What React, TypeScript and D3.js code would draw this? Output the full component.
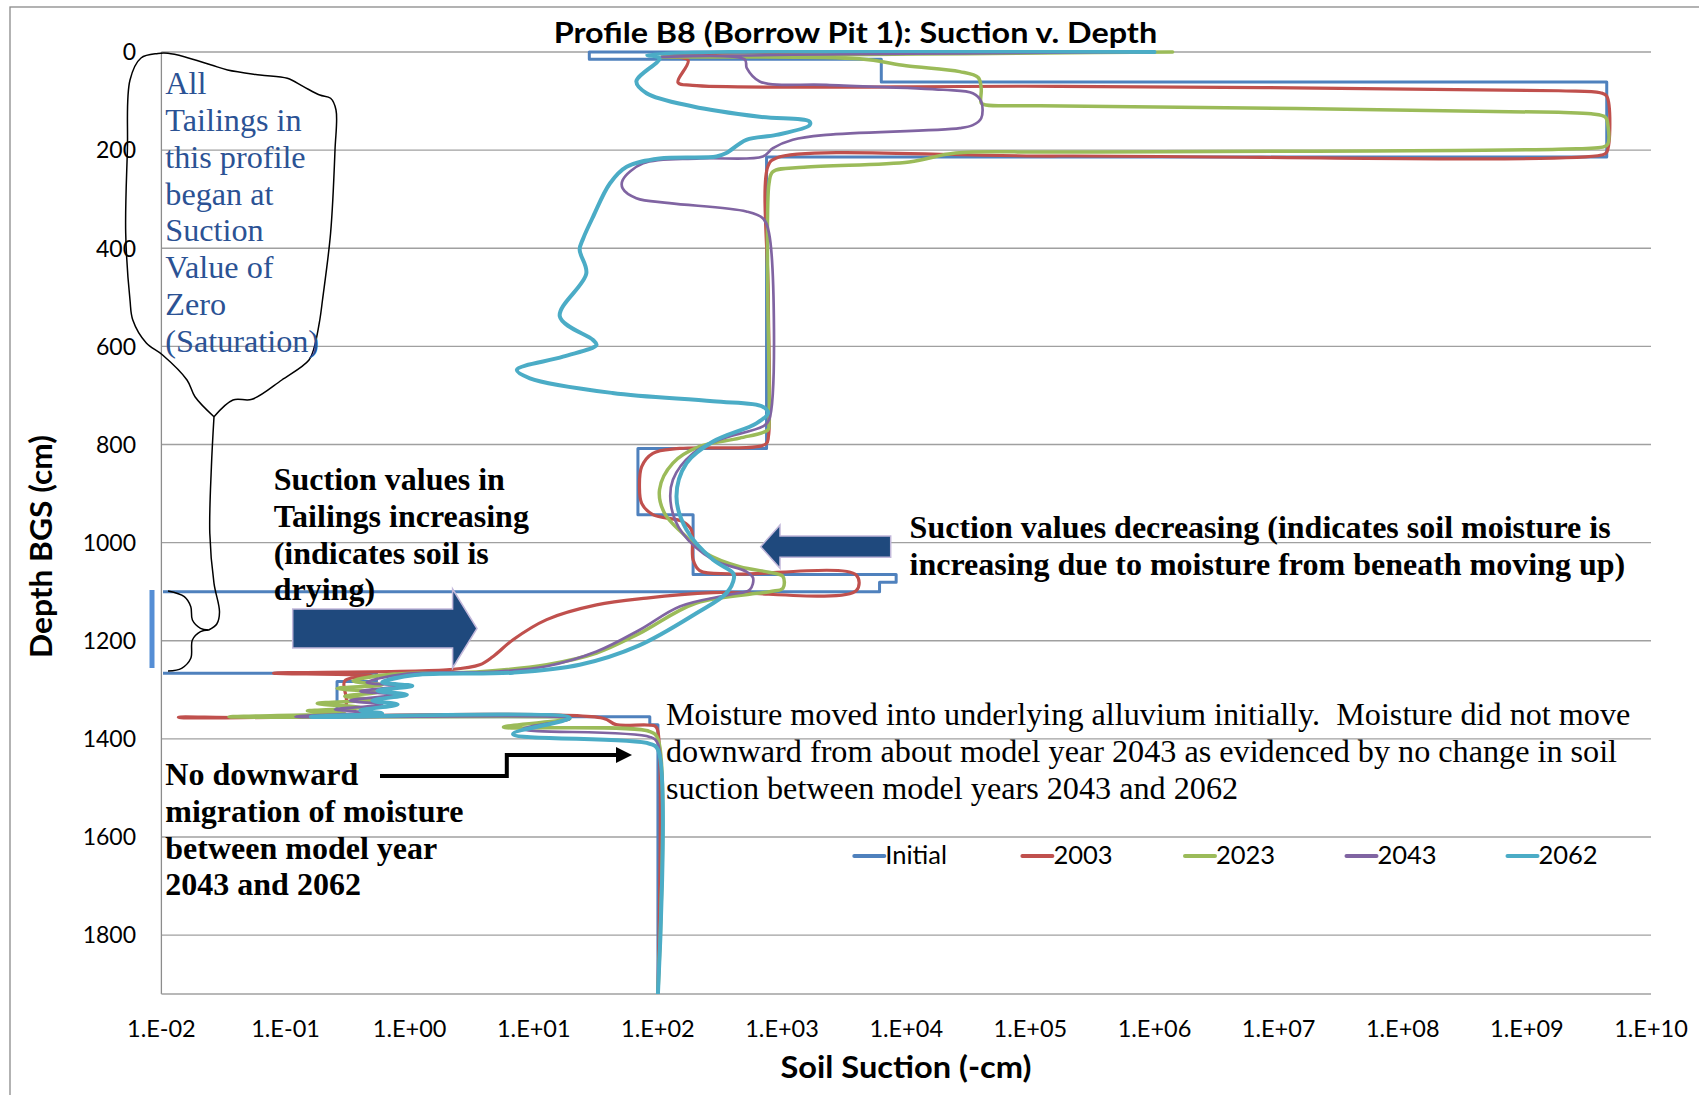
import React from 'react';
import * as d3 from 'd3';

const W = 1699;
const H = 1095;

// ---------- data ----------
const depthTicks = [0, 200, 400, 600, 800, 1000, 1200, 1400, 1600, 1800];
const suctionTicks = [1e-2, 1e-1, 1e0, 1e1, 1e2, 1e3, 1e4, 1e5, 1e6, 1e7, 1e8, 1e9, 1e10];
const suctionTickLabels = ['1.E-02', '1.E-01', '1.E+00', '1.E+01', '1.E+02', '1.E+03', '1.E+04', '1.E+05', '1.E+06', '1.E+07', '1.E+08', '1.E+09', '1.E+10'];
const seriesNames = ['Initial', '2003', '2023', '2043', '2062'];
const seriesColors = ['#4F81BD', '#C0504D', '#9BBB59', '#8064A2', '#4BACC6'];

// [suction (-cm), depth (cm)]
const initialPts: [number, number][] = [
  [1e6, 0], [28, 0], [28, 15], [6300, 15], [6300, 61], [4.4e9, 61], [4.4e9, 214], [750, 214],
  [750, 808], [69, 808], [69, 943], [192, 943], [192, 1065], [8300, 1065], [8300, 1081],
  [6100, 1081], [6100, 1100], [0.01, 1100], [0.01, 1266], [0.54, 1266], [0.54, 1283],
  [0.26, 1283], [0.26, 1355], [86, 1355], [86, 1371], [100, 1371], [100, 1920],
];

const pts2003: [number, number][] = [
  [1e6, 0], [110, 8], [175, 17], [145, 62], [190, 68], [1.7e5, 70], [1.8e9, 79], [3.9e9, 83],
  [4.4e9, 90], [4.4e9, 204], [4.0e9, 210], [1.7e5, 212], [900, 216], [772, 232], [775, 500],
  [778, 782], [740, 799], [150, 808], [91, 818], [74, 845], [71, 886], [74, 920], [91, 943],
  [159, 957], [186, 974], [192, 1035], [217, 1057], [403, 1064], [3960, 1066], [3960, 1098],
  [278, 1102], [81, 1113], [32, 1127], [12.7, 1157], [6.8, 1198], [4.7, 1232], [3.67, 1249],
  [2.1, 1259], [0.08, 1266], [0.5, 1272], [0.3, 1282], [0.3, 1335], [0.0137, 1356], [36, 1358],
  [46, 1371], [95, 1374], [100, 1385], [100, 1920],
];

const pts2023: [number, number][] = [
  [1.4e6, 0], [103, 10], [4200, 14], [1.0e4, 28], [2.7e4, 40], [3.8e4, 52], [4.02e4, 75],
  [4.02e4, 104], [4.4e4, 108], [1.2e5, 109.5], [1.8e9, 123], [3.3e9, 126], [4.3e9, 133],
  [4.5e9, 150], [4.5e9, 187], [4.2e9, 193], [1.8e9, 198], [1.7e5, 204], [2.5e4, 206],
  [1.06e4, 224], [1500, 235], [845, 244], [785, 268], [785, 757], [770, 770], [455, 787],
  [217, 804], [132, 838], [103, 892], [113, 940], [158, 981], [245, 1022], [455, 1049],
  [850, 1062], [1017, 1069], [1017, 1093], [795, 1100], [204, 1123], [71, 1185], [32, 1225],
  [12.7, 1249], [3.67, 1263], [0.75, 1268], [0.35, 1282], [0.6, 1290], [0.26, 1297], [0.55, 1305],
  [0.3, 1313], [0.5, 1320], [0.18, 1328], [0.4, 1336], [0.15, 1343], [0.3, 1348], [0.035, 1355],
  [19.5, 1359], [5.7, 1376], [86, 1385], [100, 1400], [100, 1920],
];

const pts2043: [number, number][] = [
  [1e6, 0], [103, 10], [500, 15], [520, 33], [660, 60], [2275, 67], [1.98e4, 77], [3.44e4, 84],
  [4.02e4, 101], [4.02e4, 135], [3.44e4, 149], [2.7e4, 155], [2275, 169], [1220, 179], [845, 196],
  [700, 213], [217, 217], [76, 227], [52, 261], [52, 278], [67, 298], [124, 308], [515, 325],
  [700, 339], [785, 369], [785, 750], [700, 763], [314, 790], [192, 818], [132, 872], [128, 927],
  [158, 981], [278, 1035], [516, 1059], [584, 1072], [549, 1096], [378, 1106], [150, 1130],
  [71, 1178], [32, 1222], [12.7, 1252], [5, 1263], [0.9, 1268], [0.45, 1285], [0.85, 1292],
  [0.4, 1303], [0.75, 1310], [0.33, 1322], [0.6, 1330], [0.25, 1340], [0.45, 1346], [0.12, 1355],
  [19.5, 1359], [8.2, 1380], [86, 1396], [100, 1410], [100, 1920],
];

const pts2062: [number, number][] = [
  [1e6, 0], [82, 6], [103, 13], [67, 60], [81, 84], [192, 111], [660, 132], [1667, 142],
  [1667, 149], [900, 169], [515, 179], [356, 206], [296, 213], [103, 217], [56, 234], [41, 268],
  [30, 336], [25, 380], [23.4, 403], [26.5, 451], [16.2, 539], [30, 587], [32, 597], [17.2, 621],
  [7.3, 648], [9.3, 665], [43, 695], [278, 712], [700, 723], [770, 736], [621, 757], [278, 794],
  [170, 838], [141, 906], [170, 974], [278, 1035], [403, 1062], [410, 1072], [356, 1103],
  [204, 1144], [70, 1210], [23.4, 1249], [6.8, 1265], [1.1, 1270], [0.6, 1285], [1.05, 1292],
  [0.55, 1302], [0.95, 1310], [0.5, 1322], [0.8, 1330], [0.4, 1342], [0.6, 1348], [0.16, 1355],
  [19.5, 1357], [6.8, 1390], [86, 1410], [100, 1422], [100, 1920],
];

const seriesPoints = [initialPts, pts2003, pts2023, pts2043, pts2062];

// ---------- annotation texts ----------
const bubbleLines = ['All', 'Tailings in', 'this profile', 'began at', 'Suction', 'Value of', 'Zero', '(Saturation)'];
const dryingLines = ['Suction values in', 'Tailings increasing', '(indicates soil is', 'drying)'];
const decreasingLines = ['Suction values decreasing (indicates soil moisture is', 'increasing due to moisture from beneath moving up)'];
const moistureLines = ['Moisture moved into underlying alluvium initially.  Moisture did not move', 'downward from about model year 2043 as evidenced by no change in soil', 'suction between model years 2043 and 2062'];
const noDownLines = ['No downward', 'migration of moisture', 'between model year', '2043 and 2062'];

// ---------- layout / style ----------
const plot = { left: 161.4, right: 1651, top: 52, bottom: 994 };
const seriesWidths = [3, 3.2, 3.5, 2.7, 4];
const legendXs = [854.3, 1022.4, 1185, 1346.5, 1507.5];
const sansFont = 'Lato, "Open Sans", sans-serif';
const serifFont = '"Liberation Serif", "Times New Roman", serif';
const lineGap = 36.75;

export default function App() {
  const x = d3.scaleLog().domain([1e-2, 1e10]).range([plot.left, plot.right]);
  const y = d3.scaleLinear().domain([0, 1920]).range([plot.top, plot.bottom]);

  const smooth = d3
    .line<[number, number]>()
    .x((d) => x(d[0]))
    .y((d) => y(d[1]))
    .curve(d3.curveCatmullRom.alpha(0.5));
  const straight = d3
    .line<[number, number]>()
    .x((d) => x(d[0]))
    .y((d) => y(d[1]))
    .curve(d3.curveLinear);

  const px = d3.line<[number, number]>().curve(d3.curveCatmullRom.alpha(0.5));

  const bubble: [number, number][] = [
    [214, 416.7], [233, 400], [252, 399.3], [281.8, 380], [309, 360], [314.4, 346.7], [319.8, 320],
    [322.5, 300], [330.6, 233], [335, 150], [336, 110], [330.6, 98.3], [319.8, 95], [303.5, 86.7],
    [287.3, 78.3], [260, 75], [227.6, 70], [211.4, 65], [184.3, 56.7], [168, 53.3], [158, 53.5],
    [141, 58], [130, 80], [127.4, 150], [125.7, 233], [130, 300], [132.8, 320], [146.3, 343],
    [162.6, 355], [187, 380], [195, 396.7], [214, 416.7],
  ];
  const tail: [number, number][] = [
    [214, 416.7], [211.4, 466.7], [209.8, 533.3], [214, 583.3], [219.5, 612], [216.8, 624], [208.7, 630],
  ];
  const braceTop: [number, number][] = [
    [168, 591], [184.3, 596.7], [190.8, 606.7], [192.4, 620], [200.5, 628.3], [208.7, 630],
  ];
  const braceBottom: [number, number][] = [
    [208.7, 630], [200.5, 631.7], [192.4, 640], [190.8, 658.3], [181.6, 668.3], [168, 671],
  ];

  return (
    <svg
      width={W}
      height={H}
      viewBox={`0 0 ${W} ${H}`}
      style={{ position: 'absolute', left: 0, top: 0, background: '#fff' }}
    >
      <rect x={0} y={0} width={W} height={H} fill="#fff" />
      <rect x={10} y={7} width={W + 20} height={H + 20} fill="none" stroke="#8a8a8a" strokeWidth={1.3} />
      <defs>
        <clipPath id="plotClip">
          <rect x={plot.left + 1.6} y={plot.top - 2} width={plot.right - plot.left + 10} height={plot.bottom - plot.top + 2} />
        </clipPath>
      </defs>

      {/* gridlines */}
      {depthTicks.map((t) => (
        <line key={'g' + t} x1={plot.left} x2={plot.right} y1={y(t)} y2={y(t)} stroke="#a0a0a0" strokeWidth={1.3} />
      ))}
      {/* axes */}
      <line x1={plot.left} x2={plot.left} y1={plot.top} y2={plot.bottom} stroke="#8c8c8c" strokeWidth={1.3} />
      <line x1={plot.left} x2={plot.right} y1={plot.bottom} y2={plot.bottom} stroke="#a0a0a0" strokeWidth={1.3} />

      {/* tick labels */}
      {depthTicks.map((t) => (
        <text key={'yl' + t} x={136} y={y(t)} dy="0.36em" textAnchor="end" fontFamily={sansFont} fontSize={23} fill="#000">
          {t}
        </text>
      ))}
      {suctionTicks.map((t, i) => (
        <text key={'xl' + t} x={x(t)} y={1036.5} textAnchor="middle" fontFamily={sansFont} fontSize={23.5} fill="#000">
          {suctionTickLabels[i]}
        </text>
      ))}

      {/* series */}
      <g clipPath="url(#plotClip)" fill="none" strokeLinecap="round" strokeLinejoin="round">
        {seriesPoints.map((pts, i) => (
          <path
            key={seriesNames[i]}
            d={(i === 0 ? straight(pts) : smooth(pts)) || ''}
            stroke={seriesColors[i]}
            strokeWidth={seriesWidths[i]}
          />
        ))}
      </g>

      {/* titles */}
      <text x={855.4} y={43.3} textAnchor="middle" fontFamily={sansFont} fontWeight="bold" fontSize={28} textLength={603.5} lengthAdjust="spacingAndGlyphs" fill="#000">
        Profile B8 (Borrow Pit 1): Suction v. Depth
      </text>
      <text x={906} y={1078} textAnchor="middle" fontFamily={sansFont} fontWeight="bold" fontSize={30} textLength={251} lengthAdjust="spacingAndGlyphs" fill="#000">
        Soil Suction (-cm)
      </text>
      <text transform="translate(51.5,546.5) rotate(-90)" textAnchor="middle" fontFamily={sansFont} fontWeight="bold" fontSize={30} textLength={223} lengthAdjust="spacingAndGlyphs" fill="#000">
        Depth BGS (cm)
      </text>

      {/* legend */}
      {seriesNames.map((n, i) => {
        const lx = legendXs[i];
        return (
          <g key={'lg' + n}>
            <line x1={lx} x2={lx + 30} y1={856} y2={856} stroke={seriesColors[i]} strokeWidth={4} strokeLinecap="round" />
            <text x={lx + 31} y={864} fontFamily={sansFont} fontSize={25.5} fill="#000">
              {n}
            </text>
          </g>
        );
      })}

      {/* annotation: bubble */}
      <g fill="none" stroke="#000" strokeWidth={1.5}>
        <path d={px(bubble) || ''} />
        <path d={px(tail) || ''} />
        <path d={px(braceTop) || ''} />
        <path d={px(braceBottom) || ''} />
      </g>
      {bubbleLines.map((l, i) => (
        <text key={'b' + i} x={165.3} y={94.3 + i * lineGap} fontFamily={serifFont} fontSize={32.2} fill="#2B5294">
          {l}
        </text>
      ))}
      <line x1={152} x2={152} y1={590} y2={668} stroke="#558ED5" strokeWidth={5} />

      {/* right arrow */}
      <polygon
        points="292.7,609 452.6,609 452.6,589 477,628.5 452.6,668 452.6,648 292.7,648"
        fill="#1F497D"
        stroke="#C2B8DA"
        strokeWidth={1.5}
      />
      {/* left arrow */}
      <polygon
        points="890.7,536 780,536 780,525 760.7,546.7 780,568.3 780,557.3 890.7,557.3"
        fill="#1F497D"
        stroke="#C2B8DA"
        strokeWidth={1.5}
      />
      {/* elbow arrow */}
      <polyline points="380,776 506.8,776 506.8,755 618,755" fill="none" stroke="#000" strokeWidth={4} />
      <polygon points="616,747 632,755 616,763" fill="#000" />

      {dryingLines.map((l, i) => (
        <text key={'d' + i} x={273.7} y={490 + i * lineGap} fontFamily={serifFont} fontWeight="bold" fontSize={32} fill="#000">
          {l}
        </text>
      ))}
      {decreasingLines.map((l, i) => (
        <text key={'c' + i} x={909.6} y={538.3 + i * lineGap} fontFamily={serifFont} fontWeight="bold" fontSize={32} fill="#000">
          {l}
        </text>
      ))}
      {moistureLines.map((l, i) => (
        <text key={'m' + i} x={666} y={725 + i * lineGap} fontFamily={serifFont} fontSize={32.2} fill="#000" style={{ whiteSpace: 'pre' }}>
          {l}
        </text>
      ))}
      {noDownLines.map((l, i) => (
        <text key={'n' + i} x={165.3} y={785 + i * lineGap} fontFamily={serifFont} fontWeight="bold" fontSize={32} fill="#000">
          {l}
        </text>
      ))}
    </svg>
  );
}
